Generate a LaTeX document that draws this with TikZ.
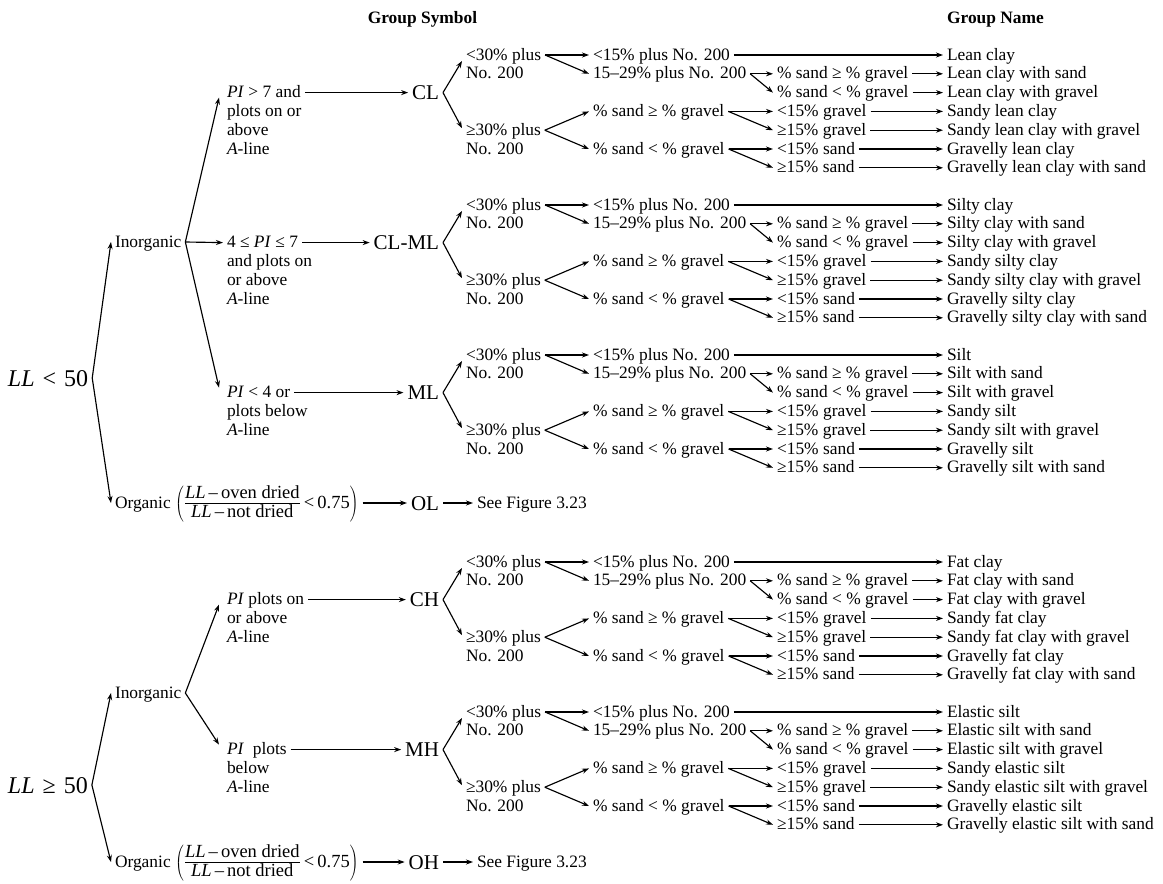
\RequirePackage{fix-cm}
\documentclass[tikz,border=0pt]{standalone}
\usepackage{fontspec}
\setmainfont{Liberation Serif}
\usetikzlibrary{arrows.meta,calc}

\tikzset{
  txt/.style={font=\fontsize{17.4}{18.8}\selectfont, inner sep=0pt, outer sep=4pt,
              anchor=west, text height=13pt, text depth=3pt},
  sym/.style={font=\fontsize{21}{24}\selectfont, inner sep=0pt, outer sep=4pt,
              anchor=east, text height=14pt, text depth=0pt},
  big/.style={font=\fontsize{24}{26}\selectfont, inner sep=0pt, outer sep=4pt,
              anchor=west, text height=16pt, text depth=0pt},
  hdr/.style={font=\bfseries\fontsize{17.4}{18.8}\selectfont, inner sep=0pt,
              text height=12pt, text depth=0pt},
  arr/.style={-{Stealth[length=7pt,width=5pt]}, line width=1.15pt},
}

% One group-symbol subtree: #1 symbol node name, #2 y of first row, #3..#9 group names
\newcommand\soilgroup[9]{%
  \begin{scope}[shift={(0,#2)}]
    \node[txt] (#1-lt)  at (462,0)     {<30\% plus};
    \node[txt] (#1-lt2) at (462,18.8)  {No. 200};
    \node[txt] (#1-ge)  at (462,75.2)  {≥30\% plus};
    \node[txt] (#1-ge2) at (462,94)    {No. 200};
    \node[txt] (#1-b1)  at (589,0)     {<15\% plus No. 200};
    \node[txt] (#1-b2)  at (589,18.8)  {15–29\% plus No. 200};
    \node[txt] (#1-b3)  at (589,56.4)  {\% sand ≥ \% gravel};
    \node[txt] (#1-b4)  at (589,94)    {\% sand < \% gravel};
    \node[txt] (#1-c2)  at (773,18.8)  {\% sand ≥ \% gravel};
    \node[txt] (#1-c3)  at (773,37.6)  {\% sand < \% gravel};
    \node[txt] (#1-c4)  at (773,56.4)  {<15\% gravel};
    \node[txt] (#1-c5)  at (773,75.2)  {≥15\% gravel};
    \node[txt] (#1-c6)  at (773,94)    {<15\% sand};
    \node[txt] (#1-c7)  at (773,112.8) {≥15\% sand};
    \node[txt] (#1-d1)  at (943,0)     {#3};
    \node[txt] (#1-d2)  at (943,18.8)  {#4};
    \node[txt] (#1-d3)  at (943,37.6)  {#5};
    \node[txt] (#1-d4)  at (943,56.4)  {#6};
    \node[txt] (#1-d5)  at (943,75.2)  {#7};
    \node[txt] (#1-d6)  at (943,94)    {#8};
    \node[txt] (#1-d7)  at (943,112.8) {#9};
  \end{scope}
  \draw[arr] (#1.east) -- ($(#1-lt.west)+(0,6)$);
  \draw[arr] (#1.east) -- ($(#1-ge.west)+(0,-2)$);
  \draw[arr] (#1-lt.east) -- (#1-b1.west);
  \draw[arr] (#1-lt.east) -- (#1-b2.west);
  \draw[arr] (#1-ge.east) -- (#1-b3.west);
  \draw[arr] (#1-ge.east) -- (#1-b4.west);
  \draw[arr] (#1-b2.east) -- (#1-c2.west);
  \draw[arr] (#1-b2.east) -- (#1-c3.west);
  \draw[arr] (#1-b3.east) -- (#1-c4.west);
  \draw[arr] (#1-b3.east) -- (#1-c5.west);
  \draw[arr] (#1-b4.east) -- (#1-c6.west);
  \draw[arr] (#1-b4.east) -- (#1-c7.west);
  \draw[arr] (#1-b1.east) -- (#1-d1.west);
  \draw[arr] (#1-c2.east) -- (#1-d2.west);
  \draw[arr] (#1-c3.east) -- (#1-d3.west);
  \draw[arr] (#1-c4.east) -- (#1-d4.west);
  \draw[arr] (#1-c5.east) -- (#1-d5.west);
  \draw[arr] (#1-c6.east) -- (#1-d6.west);
  \draw[arr] (#1-c7.east) -- (#1-d7.west);
}

% ratio of liquid limits, oven dried over not dried
\newcommand\fracfont{\fontsize{18.5}{20}\selectfont}
\newcommand\organicratio{%
  $\left(\frac{\mbox{\fracfont\rule[-5pt]{0pt}{5pt}\textit{LL}\,–\,oven dried}}{\mbox{\fracfont\textit{LL}\,–\,not dried}}
   \mbox{\fracfont\,<\,0.75}\right)$}

\begin{document}
\begin{tikzpicture}[x=1pt, y=-1pt]
  \fill[white] (0,0) rectangle (1163,884);
  \useasboundingbox (0,0) rectangle (1163,884);

  % column headers
  \node[hdr] (hsym)  at (422.5,17) {Group Symbol};
  \node[hdr] (hname) at (995.5,17) {Group Name};

  % ---------- LL < 50 ----------
  \node[big] (ll1) at (4,378) {\textit{LL}\hspace{8pt}<\hspace{8pt}50};
  \node[txt] (inorg1) at (111,242) {Inorganic};
  \node[txt] (org1)   at (111,503) {Organic \organicratio};

  \node[txt] (pi1)  at (223,92.6)  {\textit{PI} > 7 and};
  \node[txt] (pi1b) at (223,111.4) {plots on or};
  \node[txt] (pi1c) at (223,130.2) {above};
  \node[txt] (pi1d) at (223,149)   {\textit{A}-line};

  \node[txt] (pi2)  at (223,242.6) {4 ≤ \textit{PI} ≤ 7};
  \node[txt] (pi2b) at (223,261.4) {and plots on};
  \node[txt] (pi2c) at (223,280.2) {or above};
  \node[txt] (pi2d) at (223,299)   {\textit{A}-line};

  \node[txt] (pi3)  at (223,392.6) {\textit{PI} < 4 or};
  \node[txt] (pi3b) at (223,411.4) {plots below};
  \node[txt] (pi3c) at (223,430.2) {\textit{A}-line};

  \node[sym] (CL)   at (443,92.6)  {CL};
  \node[sym] (CLML) at (443,242.6) {CL-ML};
  \node[sym] (ML)   at (443,392.6) {ML};
  \node[sym] (OL)   at (443,503)   {OL};
  \node[txt] (see1) at (473,503)   {See Figure 3.23};

  \draw[arr] (ll1.east) -- (inorg1.west);
  \draw[arr] (ll1.east) -- (org1.west);
  \draw[arr] (inorg1.east) -- ($(pi1.west)+(-4,5)$);
  \draw[arr] (inorg1.east) -- (pi2.west);
  \draw[arr] (inorg1.east) -- ($(pi3.west)+(-4,-5)$);
  \draw[arr] (pi1.east) -- (CL.west);
  \draw[arr] (pi2.east) -- (CLML.west);
  \draw[arr] (pi3.east) -- (ML.west);
  \draw[arr] (org1.east) -- (OL.west);
  \draw[arr] (OL.east) -- (see1.west);

  \soilgroup{CL}{55}{Lean clay}{Lean clay with sand}{Lean clay with gravel}{Sandy lean clay}{Sandy lean clay with gravel}{Gravelly lean clay}{Gravelly lean clay with sand}
  \soilgroup{CLML}{205}{Silty clay}{Silty clay with sand}{Silty clay with gravel}{Sandy silty clay}{Sandy silty clay with gravel}{Gravelly silty clay}{Gravelly silty clay with sand}
  \soilgroup{ML}{355}{Silt}{Silt with sand}{Silt with gravel}{Sandy silt}{Sandy silt with gravel}{Gravelly silt}{Gravelly silt with sand}

  % ---------- LL >= 50 ----------
  \node[big] (ll2) at (4,785) {\textit{LL}\hspace{8pt}≥\hspace{8pt}50};
  \node[txt] (inorg2) at (111,693) {Inorganic};
  \node[txt] (org2)   at (111,862) {Organic \organicratio};

  \node[txt] (pi4)  at (223,599.6) {\textit{PI} plots on};
  \node[txt] (pi4b) at (223,618.4) {or above};
  \node[txt] (pi4c) at (223,637.2) {\textit{A}-line};

  \node[txt] (pi5)  at (223,749.6) {\textit{PI}\enspace plots};
  \node[txt] (pi5b) at (223,768.4) {below};
  \node[txt] (pi5c) at (223,787.2) {\textit{A}-line};

  \node[sym] (CH)   at (443,599.6) {CH};
  \node[sym] (MH)   at (443,749.6) {MH};
  \node[sym] (OH)   at (443,862)   {OH};
  \node[txt] (see2) at (473,862)   {See Figure 3.23};

  \draw[arr] (ll2.east) -- (inorg2.west);
  \draw[arr] (ll2.east) -- (org2.west);
  \draw[arr] (inorg2.east) -- ($(pi4.west)+(-4,5)$);
  \draw[arr] (inorg2.east) -- ($(pi5.west)+(-4,-5)$);
  \draw[arr] (pi4.east) -- (CH.west);
  \draw[arr] (pi5.east) -- (MH.west);
  \draw[arr] (org2.east) -- (OH.west);
  \draw[arr] (OH.east) -- (see2.west);

  \soilgroup{CH}{562}{Fat clay}{Fat clay with sand}{Fat clay with gravel}{Sandy fat clay}{Sandy fat clay with gravel}{Gravelly fat clay}{Gravelly fat clay with sand}
  \soilgroup{MH}{712}{Elastic silt}{Elastic silt with sand}{Elastic silt with gravel}{Sandy elastic silt}{Sandy elastic silt with gravel}{Gravelly elastic silt}{Gravelly elastic silt with sand}
\end{tikzpicture}
\end{document}
